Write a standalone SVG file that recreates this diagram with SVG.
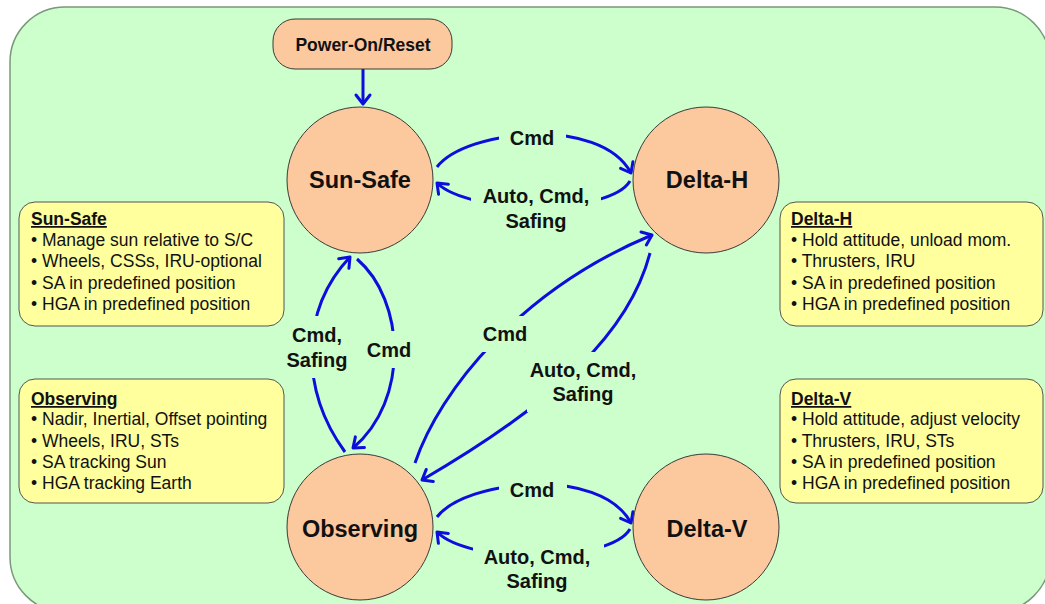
<svg xmlns="http://www.w3.org/2000/svg" width="1045" height="604" viewBox="0 0 1045 604">
<defs>
<style>
.bg{fill:#ccffcc;stroke:#7a987a;stroke-width:1.5}
.state{fill:#fcc89e;stroke:#3a3a3a;stroke-width:1}
.info{fill:#ffff9e;stroke:#555;stroke-width:1}
.conn{fill:none;stroke:#0d0ddd;stroke-width:3;marker-end:url(#arr)}
.gap{fill:#ccffcc;stroke:none}
.lbl{font-family:"Liberation Sans",Arial,sans-serif;font-weight:bold;font-size:20px;fill:#111;text-anchor:middle}
.sname{font-family:"Liberation Sans",Arial,sans-serif;font-weight:bold;font-size:23.5px;fill:#111;text-anchor:middle}
.pname{font-family:"Liberation Sans",Arial,sans-serif;font-weight:bold;font-size:17.5px;fill:#111;text-anchor:middle}
.ttl{font-family:"Liberation Sans",Arial,sans-serif;font-weight:bold;font-size:17.5px;fill:#111;text-decoration:underline}
.txt{font-family:"Liberation Sans",Arial,sans-serif;font-size:17.5px;fill:#111}
</style>
<marker id="arr" markerUnits="userSpaceOnUse" markerWidth="20" markerHeight="20" refX="12" refY="10" orient="auto">
<path d="M3,3 L12,10 L3,17" fill="none" stroke="#0d0ddd" stroke-width="3" stroke-linejoin="round" stroke-linecap="round"/>
</marker>
</defs>

<rect class="bg" x="10" y="7" width="1040" height="605" rx="55" ry="55"/>

<g id="connectors">
<path class="conn" d="M363,69 L363,104"/>
<path class="conn" d="M437,167 C465,130 600,115 631,173"/>
<path class="conn" d="M630,181 C610,215 470,215 437,183"/>
<path class="conn" d="M345,452 C300,390 300,310 350,257"/>
<path class="conn" d="M357,259 C405,300 410,400 353,448"/>
<path class="conn" d="M415,463 C440,390 520,290 652,235"/>
<path class="conn" d="M650,253 C630,330 560,400 422,480"/>
<path class="conn" d="M437,517 C465,480 600,465 631,523"/>
<path class="conn" d="M630,529 C610,563 470,565 437,532"/>

<rect class="gap" x="499" y="118" width="67" height="34"/>
<rect class="gap" x="471" y="184" width="130" height="48"/>
<rect class="gap" x="290" y="316" width="55" height="62"/>
<rect class="gap" x="365" y="331" width="50" height="37"/>
<rect class="gap" x="478" y="316" width="47" height="36"/>
<rect class="gap" x="527" y="352" width="112" height="60"/>
<rect class="gap" x="499" y="470" width="68" height="32"/>
<rect class="gap" x="473" y="536" width="131" height="58"/>

<text class="lbl" x="532" y="145">Cmd</text>
<text class="lbl" x="536" y="203">Auto, Cmd,</text>
<text class="lbl" x="536" y="228">Safing</text>
<text class="lbl" x="317" y="342">Cmd,</text>
<text class="lbl" x="317" y="367">Safing</text>
<text class="lbl" x="389" y="357">Cmd</text>
<text class="lbl" x="505" y="341">Cmd</text>
<text class="lbl" x="583" y="377">Auto, Cmd,</text>
<text class="lbl" x="583" y="401">Safing</text>
<text class="lbl" x="532" y="497">Cmd</text>
<text class="lbl" x="537" y="564">Auto, Cmd,</text>
<text class="lbl" x="537" y="588">Safing</text>
</g>

<g id="power-on-reset">
<rect class="state" x="273" y="19" width="179" height="50" rx="22" ry="22"/>
<text class="pname" x="363" y="51">Power-On/Reset</text>
</g>

<g id="sun-safe">
<circle class="state" cx="360" cy="180" r="73"/>
<text class="sname" x="360" y="188">Sun-Safe</text>
</g>

<g id="delta-h">
<circle class="state" cx="706" cy="180" r="73"/>
<text class="sname" x="707" y="188">Delta-H</text>
</g>

<g id="observing">
<circle class="state" cx="360" cy="527" r="73"/>
<text class="sname" x="360" y="537">Observing</text>
</g>

<g id="delta-v">
<circle class="state" cx="706" cy="527" r="73"/>
<text class="sname" x="707" y="537">Delta-V</text>
</g>

<g id="info-sun-safe">
<rect class="info" x="19" y="202" width="265" height="124" rx="16" ry="16"/>
<text class="ttl" x="31" y="225">Sun-Safe</text>
<text class="txt" x="31" y="246">• Manage sun relative to S/C</text>
<text class="txt" x="31" y="267">• Wheels, CSSs, IRU-optional</text>
<text class="txt" x="31" y="288.5">• SA in predefined position</text>
<text class="txt" x="31" y="310">• HGA in predefined position</text>
</g>

<g id="info-observing">
<rect class="info" x="19" y="379" width="265" height="124" rx="16" ry="16"/>
<text class="ttl" x="31" y="405">Observing</text>
<text class="txt" x="31" y="425">• Nadir, Inertial, Offset pointing</text>
<text class="txt" x="31" y="446.5">• Wheels, IRU, STs</text>
<text class="txt" x="31" y="468">• SA tracking Sun</text>
<text class="txt" x="31" y="489">• HGA tracking Earth</text>
</g>

<g id="info-delta-h">
<rect class="info" x="780" y="202" width="263" height="124" rx="16" ry="16"/>
<text class="ttl" x="791" y="225">Delta-H</text>
<text class="txt" x="791" y="246">• Hold attitude, unload mom.</text>
<text class="txt" x="791" y="267">• Thrusters, IRU</text>
<text class="txt" x="791" y="288.5">• SA in predefined position</text>
<text class="txt" x="791" y="310">• HGA in predefined position</text>
</g>

<g id="info-delta-v">
<rect class="info" x="780" y="379" width="263" height="124" rx="16" ry="16"/>
<text class="ttl" x="791" y="405">Delta-V</text>
<text class="txt" x="791" y="425">• Hold attitude, adjust velocity</text>
<text class="txt" x="791" y="446.5">• Thrusters, IRU, STs</text>
<text class="txt" x="791" y="468">• SA in predefined position</text>
<text class="txt" x="791" y="489">• HGA in predefined position</text>
</g>
</svg>
